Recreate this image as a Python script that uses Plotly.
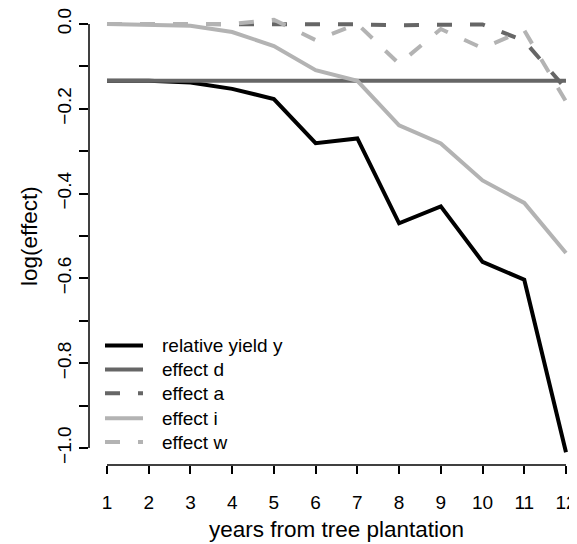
import plotly.graph_objects as go

# ---- data ----
years = [1, 2, 3, 4, 5, 6, 7, 8, 9, 10, 11, 12]
relative_yield_y = [-0.134, -0.134, -0.138, -0.153, -0.177, -0.281, -0.270, -0.470, -0.430, -0.561, -0.603, -1.010]
effect_d = [-0.134] * 12
effect_a = [0.0, 0.0, 0.0, 0.0, -0.001, -0.001, -0.001, -0.003, -0.001, -0.001, -0.040, -0.153]
effect_i = [0.0, -0.001, -0.004, -0.019, -0.052, -0.109, -0.134, -0.239, -0.282, -0.369, -0.422, -0.540]
effect_w = [0.0, 0.0, 0.0, 0.0, 0.010, -0.038, 0.0, -0.094, -0.012, -0.057, -0.015, -0.183]

series_names = ["relative yield y", "effect d", "effect a", "effect i", "effect w"]
y_tick_vals = [0.0, -0.1, -0.2, -0.3, -0.4, -0.5, -0.6, -0.7, -0.8, -0.9, -1.0]
y_tick_text = ["0.0", "", "\u22120.2", "", "\u22120.4", "", "\u22120.6", "", "\u22120.8", "", "\u22121.0"]
x_title = "years from tree plantation"
y_title = "log(effect)"

# ---- style ----
FONT = "Liberation Sans, Arial, Helvetica, sans-serif"
FS = 19
FS_TITLE = 22.5
DARK = "#666666"
LIGHT = "#B3B3B3"
DASH = "15px,18px"
LW = 4
styles = [
    dict(color="#000000", dash="solid"),
    dict(color=DARK, dash="solid"),
    dict(color=DARK, dash=DASH),
    dict(color=LIGHT, dash="solid"),
    dict(color=LIGHT, dash=DASH),
]
series_values = [relative_yield_y, effect_d, effect_a, effect_i, effect_w]

# page body has an 8px default margin; the figure fills the rest of the 577x544 window
OFF = 8
W, H = 577 - OFF, 544 - OFF
L, R, T, B = 81, 0, 0, 79
PW, PH = W - L - R, H - T - B

fig = go.Figure()
for name, vals, st in zip(series_names, series_values, styles):
    fig.add_trace(go.Scatter(x=years, y=vals, mode="lines", name=name, showlegend=False,
                             line=dict(color=st["color"], dash=st["dash"], width=LW)))

def px_x(p):
    return (p - OFF - L) / PW

def px_y(p):
    return (H - B - (p - OFF)) / PH

shapes = [
    dict(type="line", xref="x", yref="paper", x0=years[0], x1=years[-1], y0=0, y1=0,
         line=dict(color="black", width=1.5)),
    dict(type="line", xref="paper", yref="y", x0=0, x1=0, y0=y_tick_vals[-1], y1=y_tick_vals[0],
         line=dict(color="black", width=1.5)),
]
annotations = []
row_y = [345, 369, 393, 418, 442]
for name, st, ry in zip(series_names, styles, row_y):
    shapes.append(dict(type="line", xref="paper", yref="paper", x0=px_x(105), x1=px_x(143),
                       y0=px_y(ry), y1=px_y(ry), line=dict(color=st["color"], dash=st["dash"], width=LW)))
    annotations.append(dict(xref="paper", yref="paper", x=px_x(160), y=px_y(ry), text=name,
                            showarrow=False, xanchor="left", yanchor="middle",
                            font=dict(family=FONT, size=FS, color="black")))

annotations.append(dict(xref="x", yref="paper", x=6.5, y=px_y(530), text=x_title, showarrow=False,
                        xanchor="center", yanchor="middle",
                        font=dict(family=FONT, size=FS_TITLE, color="black")))
annotations.append(dict(xref="paper", yref="y", x=px_x(30), y=-0.5, text=y_title, showarrow=False,
                        textangle=-90, xanchor="center", yanchor="middle",
                        font=dict(family=FONT, size=FS_TITLE, color="black")))

fig.update_layout(
    width=W, height=H,
    margin=dict(l=L, r=R, t=T, b=B, pad=0),
    paper_bgcolor="white", plot_bgcolor="white",
    font=dict(family=FONT, size=FS, color="black"),
    shapes=shapes, annotations=annotations,
    xaxis=dict(range=[0.5686, 12.264], tickmode="array", tickvals=years, ticktext=[str(v) for v in years],
               ticks="outside", ticklen=8, tickwidth=1.5, tickcolor="black", showline=False,
               showgrid=False, zeroline=False, ticklabelstandoff=12, ticklabeloverflow="allow",
               tickfont=dict(family=FONT, size=FS, color="black")),
    yaxis=dict(range=[-1.04, 0.0329], tickmode="array", tickvals=y_tick_vals, ticktext=y_tick_text,
               ticks="outside", ticklen=9, tickwidth=1.5, tickcolor="black", showline=False,
               showgrid=False, zeroline=False, tickangle=-90, ticklabelstandoff=0,
               ticklabeloverflow="allow",
               tickfont=dict(family=FONT, size=FS, color="black")),
)

fig.write_html("out.html")
